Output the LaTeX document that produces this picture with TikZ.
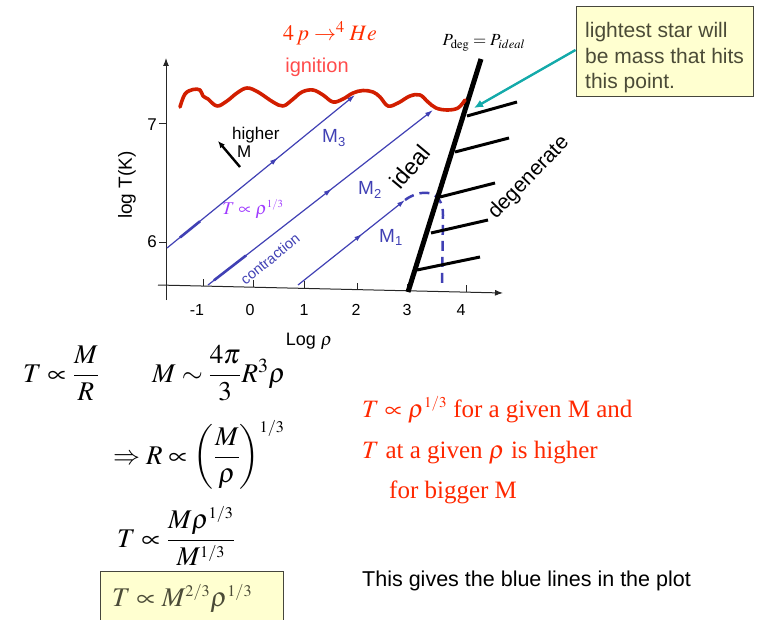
\documentclass[tikz,border=0pt]{standalone}
\usepackage{amsmath}
\usepackage{mathptmx}
\usepackage{fontspec}
\setmainfont{Liberation Serif}
\setsansfont{Liberation Sans}
\usetikzlibrary{arrows.meta,decorations.markings}
\definecolor{myblue}{RGB}{64,64,180}
\definecolor{wavered}{RGB}{210,30,0}
\definecolor{hered}{RGB}{255,45,0}
\definecolor{ignred}{RGB}{255,75,75}
\definecolor{txtred}{RGB}{255,40,0}
\definecolor{purp}{RGB}{160,60,255}
\definecolor{teal2}{RGB}{20,170,170}
\definecolor{notefill}{RGB}{255,255,208}
\definecolor{notetext}{RGB}{75,75,55}
\definecolor{noteborder}{RGB}{70,70,60}
\newcommand\fsz[1]{\fontsize{#1}{#1}\selectfont}
\newcommand\third{{\scriptscriptstyle 1/3}}
\newcommand\twothird{{\scriptscriptstyle 2/3}}
\tikzset{
  blueln/.style={draw=myblue, line width=1.2pt},
  midarrow/.style={postaction={decorate},decoration={markings,mark=at position #1 with {\arrow{Latex[length=8pt,width=5pt]}}}},
  hatchln/.style={line width=3pt},
  axisln/.style={draw=black!85, line width=1pt},
  ticklbl/.style={font=\sffamily\fsz{16}, inner sep=0pt},
  eqn/.style={font=\fsz{27}, inner sep=0pt, anchor=base west},
  redtxt/.style={font=\fsz{25}, text=txtred, inner sep=0pt, anchor=base west},
  notelbl/.style={font=\sffamily\fsz{21}, text=notetext, inner sep=0pt, anchor=base west},
}
\begin{document}
\begin{tikzpicture}[x=1pt,y=-1pt]
\useasboundingbox (0,0) rectangle (759,620);
% axes
\coordinate (yb) at (166,300); \coordinate (yt) at (166,58);
\coordinate (xl) at (158,285); \coordinate (xr) at (503,293);
\draw[axisln,-{Latex[length=8pt,width=6pt]}] (yb) -- (yt);
\draw[axisln,-{Latex[length=8pt,width=6pt]}] (xl) -- (xr);
\foreach \yy in {124,242} \draw[axisln] (159,\yy) -- (166,\yy);
\foreach \xx in {203,253,304,357,407,466}
  \draw[axisln] (\xx,{285+(\xx-158)*8/345}) -- (\xx,{278+(\xx-158)*8/345});
\node[ticklbl] (tm1) at (197,310) {-1};
\node[ticklbl] (t0) at (250,310) {0};
\node[ticklbl] (t1) at (304,310) {1};
\node[ticklbl] (t2) at (356,310) {2};
\node[ticklbl] (t3) at (407,310) {3};
\node[ticklbl] (t4) at (461,310) {4};
\node[ticklbl, font=\sffamily\fsz{17}, anchor=east] (y7) at (157,125) {7};
\node[ticklbl, font=\sffamily\fsz{17}, anchor=east] (y6) at (157,242) {6};
\node[ticklbl, font=\sffamily\fsz{19}, rotate=90] (ylab) at (127,185) {log T(K)};
\node[ticklbl, font=\sffamily\fsz{18}] (xlab) at (309,341) {Log $\rho$};
% blue lines
\coordinate (a3) at (167,248); \coordinate (b3) at (355,95);
\coordinate (a2) at (208,285); \coordinate (b2) at (433,110);
\coordinate (a1) at (298,285); \coordinate (b1) at (405,200);
\draw[blueln, midarrow=0.59, -{Latex[length=8pt,width=5pt]}] (a3) -- (b3);
\draw[blueln, midarrow=0.55, -{Latex[length=8pt,width=5pt]}] (a2) -- (b2);
\draw[blueln, midarrow=0.6, -{Latex[length=8pt,width=5pt]}] (a1) -- (b1);
\draw[myblue, line width=2.6pt] (180,237.5) -- (200,221.3);
\draw[myblue, line width=2.6pt] (214,280.3) -- (246,255.5);
% dashed path
\coordinate (d1) at (442,287);
\draw[myblue, line width=2.5pt, dash pattern=on 10pt off 6pt] (b1) .. controls (420,189) and (443,188) .. (443,215) -- (d1);
% degenerate boundary
\coordinate (pb) at (408,292); \coordinate (pt) at (481,59);
\draw[line width=5pt] (pb) -- (pt);
\draw[hatchln] (467,116) -- (517,102);
\draw[hatchln] (455,152) -- (509,138);
\draw[hatchln] (440,197) -- (495,183);
\draw[hatchln] (431,233) -- (488,220);
\draw[hatchln] (417,270) -- (480,257);
% red wave
\draw[wavered, line width=3.6pt, line cap=round, line join=round] plot[smooth, tension=0.6] coordinates {
 (180,107) (185,94) (193,89.5) (200,90) (203,96) (208,99) (217,106) (227,101) (237,93) (247,88) (258,92) (273,102) (283,106)
 (292,100) (302,92) (313,90) (323,95) (333,102) (343,99) (353,93) (363,90.5) (373,92) (380,97) (388,106) (398,103) (410,96) (420,95) (428,102) (436,108) (447,110) (458,108) (465,100)};
% labels in plot
\node[font=\fsz{22}, text=hered, inner sep=0pt] (he) at (330,33) {$4\,p\rightarrow^{4}He$};
\node[font=\sffamily\fsz{20}, text=ignred, inner sep=0pt] (ign) at (317,67) {ignition};
\node[font=\fsz{17}, inner sep=0pt] (pdeg) at (484,43) {$P_{\deg}=P_{ideal}$};
\node[font=\sffamily\fsz{23}, rotate=50, inner sep=0pt] (ideal) at (410,167) {ideal};
\node[font=\sffamily\fsz{21}, rotate=46, inner sep=0pt] (degen) at (529,178) {degenerate};
\node[font=\sffamily\fsz{19}, text=myblue, inner sep=0pt, anchor=base west] (m3) at (322,143) {M\raisebox{-0.35ex}{\fsz{13}3}};
\node[font=\sffamily\fsz{19}, text=myblue, inner sep=0pt, anchor=base west] (m2) at (358,195) {M\raisebox{-0.35ex}{\fsz{13}2}};
\node[font=\sffamily\fsz{19}, text=myblue, inner sep=0pt, anchor=base west] (m1) at (379,242) {M\raisebox{-0.35ex}{\fsz{13}1}};
\node[font=\fsz{18}, text=purp, inner sep=0pt] (trho) at (253,209) {$T\propto\rho^{\third}$};
\node[font=\sffamily\fsz{14.5}, text=myblue, rotate=39, inner sep=0pt] (contr) at (270,259) {contraction};
\node[font=\sffamily\fsz{17}, inner sep=0pt, anchor=base west] (hi) at (232,140) {higher};
\node[font=\sffamily\fsz{17}, inner sep=0pt, anchor=base west] (hm) at (237,158) {M};
\coordinate (ha) at (240,167); \coordinate (hb) at (218,141);
\draw[line width=2.4pt, -{Latex[length=7pt,width=6pt]}] (ha) -- (hb);
% note box
\node[draw=noteborder, fill=notefill, line width=1pt, minimum width=177pt, minimum height=90pt, inner sep=0pt] (note) at (664.5,52) {};
\node[notelbl] (n1) at (585,38) {lightest star will};
\node[notelbl] (n2) at (585,64) {be mass that hits};
\node[notelbl] (n3) at (585,89) {this point.};
\coordinate (tip) at (474,108);
\draw[teal2, line width=2.4pt, -{Latex[length=9pt,width=8pt]}] (note.west |- 0,50) -- (tip);
% equations
\node[eqn] (e1) at (23,382) {$T\propto\dfrac{M}{R}$};
\node[eqn] (e2) at (152,382) {$M\sim\dfrac{4\pi}{3}R^{3}\rho$};
\node[eqn] (e3) at (113,464) {$\Rightarrow R\propto\left(\dfrac{M}{\rho}\right)^{\third}$};
\node[eqn] (e4) at (117,547) {$T\propto\dfrac{M\rho^{\third}}{M^{\third}}$};
\node[draw=noteborder, fill=notefill, line width=1pt, minimum width=183pt, minimum height=52pt, inner sep=0pt] (box) at (191.5,597) {};
\node[eqn, text=notetext] (e5) at (112,606) {$T\propto M^{\twothird}\rho^{\third}$};
% red text
\node[redtxt] (r1) at (362,417) {$T\propto\rho^{\third}$ for a given M and};
\node[redtxt] (r2) at (362,458) {$T$ at a given $\rho$ is higher};
\node[redtxt] (r3) at (389,498) {for bigger M};
\node[font=\sffamily\fsz{21.5}, inner sep=0pt, anchor=base west] (bl) at (362,586) {This gives the blue lines in the plot};
\end{tikzpicture}
\end{document}
